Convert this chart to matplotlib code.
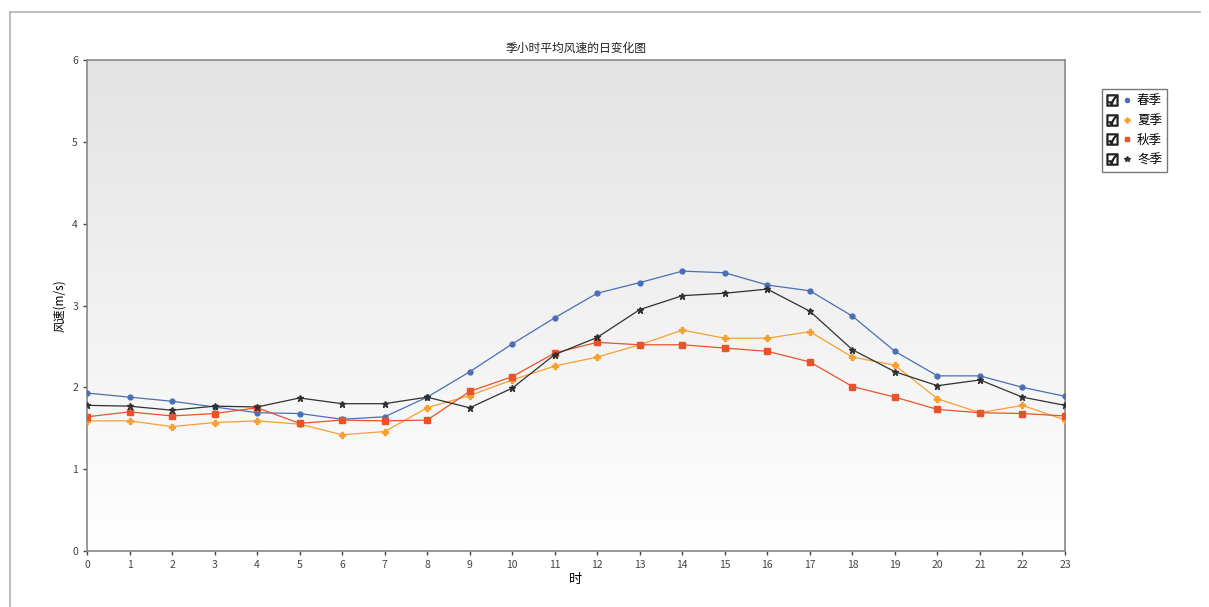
import numpy as np
import matplotlib
matplotlib.use('Agg')
import matplotlib.pyplot as plt
from matplotlib.lines import Line2D
from matplotlib.legend_handler import HandlerTuple

plt.rcParams['font.family'] = ['Noto Sans CJK SC', 'DejaVu Sans']

hours = list(range(24))
spring = [1.93, 1.88, 1.83, 1.76, 1.69, 1.68, 1.61, 1.64, 1.88, 2.19, 2.53, 2.85,
          3.15, 3.28, 3.42, 3.40, 3.25, 3.18, 2.87, 2.44, 2.14, 2.14, 2.00, 1.89]
summer = [1.59, 1.59, 1.52, 1.57, 1.59, 1.55, 1.42, 1.46, 1.75, 1.90, 2.09, 2.26,
          2.37, 2.52, 2.70, 2.60, 2.60, 2.68, 2.37, 2.27, 1.86, 1.69, 1.78, 1.60]
autumn = [1.64, 1.70, 1.65, 1.68, 1.75, 1.56, 1.60, 1.59, 1.60, 1.95, 2.13, 2.42,
          2.55, 2.52, 2.52, 2.48, 2.44, 2.31, 2.01, 1.88, 1.73, 1.69, 1.68, 1.65]
winter = [1.78, 1.77, 1.72, 1.77, 1.76, 1.87, 1.80, 1.80, 1.88, 1.75, 1.99, 2.40,
          2.61, 2.95, 3.12, 3.15, 3.20, 2.93, 2.46, 2.19, 2.02, 2.09, 1.88, 1.78]
names = ['春季', '夏季', '秋季', '冬季']

fig = plt.figure(figsize=(12.09, 6.07), dpi=100)
fig.patch.set_facecolor('white')
ax = fig.add_axes([87 / 1209, 1 - 551 / 607, (1065 - 87) / 1209, (551 - 60) / 607])

# outer window frame
fig.add_artist(Line2D([10 / 1209, 1200 / 1209], [1 - 12 / 607, 1 - 12 / 607], color='#b0b0b0', lw=1.2))
fig.add_artist(Line2D([10 / 1209, 10 / 1209], [1 - 12 / 607, 0], color='#b0b0b0', lw=1.2))

# gradient background in axes: grey on top, white at bottom
grad = np.linspace(0.89, 1.0, 256).reshape(-1, 1)
ax.imshow(np.dstack([grad, grad, grad]), extent=[0, 1, 0, 1], transform=ax.transAxes,
          aspect='auto', zorder=0, origin='upper')

lw = 0.9
styles = [
    dict(color='#4a6fb5', marker='o', ms=3.5),
    dict(color='#f5a030', marker='P', ms=4),
    dict(color='#e8532a', marker='s', ms=4),
    dict(color='#303030', marker='*', ms=4.5),
]
series = [spring, summer, autumn, winter]
for vals, st, nm in zip(series, styles, names):
    ax.plot(hours, vals, lw=lw, label=nm, zorder=3, **st)

ax.set_xlim(0, 23)
ax.set_ylim(0, 6)
ax.set_xticks(hours)
ax.set_yticks(range(7))
ax.tick_params(labelsize=7.5, colors='#444444', length=3, width=1)
for s in ax.spines.values():
    s.set_color('#888888')
    s.set_linewidth(1.2)

ax.set_title('季小时平均风速的日变化图', fontsize=8.5, pad=6, color='#222222')
ax.set_xlabel('时', fontsize=9.5, labelpad=2)
ax.set_ylabel('风速(m/s)', fontsize=8.5, labelpad=4)

# legend with checkbox + marker
handles = []
for st in styles:
    box = Line2D([], [], ls='none', marker='$\u2611$', ms=8, color='#222222')
    mk = Line2D([], [], ls='none', marker=st['marker'], ms=st['ms'] - 0.5, color=st['color'])
    handles.append((box, mk))
leg = fig.legend(handles, names, handler_map={tuple: HandlerTuple(ndivide=None, pad=0.3)},
                 loc='upper left', bbox_to_anchor=(1102 / 1209, 1 - 89 / 607), fontsize=9,
                 frameon=True, fancybox=False, edgecolor='#555555', handlelength=2.0,
                 handletextpad=0.4, labelspacing=0.55, borderpad=0.4, borderaxespad=0)
leg.get_frame().set_linewidth(1.0)

fig.savefig('out.png', dpi=100)
